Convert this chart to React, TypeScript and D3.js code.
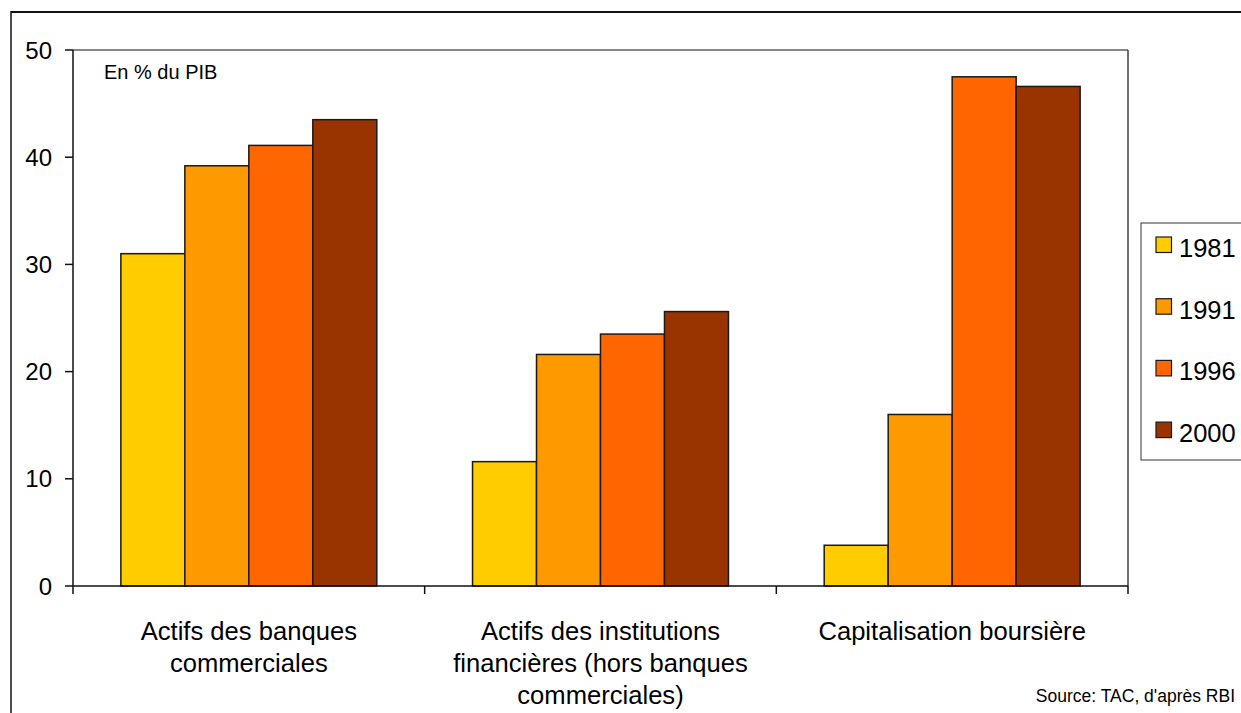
import React from "react";
import * as d3 from "d3";

const categories: string[][] = [
  ["Actifs des banques", "commerciales"],
  ["Actifs des institutions", "financières (hors banques", "commerciales)"],
  ["Capitalisation boursière"],
];
const seriesNames = ["1981", "1991", "1996", "2000"];
const seriesColors = ["#FFCC00", "#FF9900", "#FF6600", "#993300"];
const values1981 = [31.0, 11.6, 3.8];
const values1991 = [39.2, 21.6, 16.0];
const values1996 = [41.1, 23.5, 47.5];
const values2000 = [43.5, 25.6, 46.6];
const yTicks = [0, 10, 20, 30, 40, 50];

const seriesValues = [values1981, values1991, values1996, values2000];

const W = 1241;
const H = 713;
const plotLeft = 73;
const plotRight = 1128;
const plotTop = 50;
const plotBottom = 586;
const FONT = "'Liberation Sans', Arial, Helvetica, sans-serif";

export default function App() {
  const x = d3
    .scaleBand<number>()
    .domain(d3.range(categories.length))
    .range([plotLeft, plotRight])
    .paddingInner(0)
    .paddingOuter(0);
  const inner = d3
    .scaleBand<number>()
    .domain(d3.range(seriesNames.length))
    .range([0, x.bandwidth()])
    .paddingInner(0)
    .paddingOuter(0.748);
  const y = d3.scaleLinear().domain([0, 50]).range([plotBottom, plotTop]);

  const xTickPositions = d3.range(categories.length + 1).map((i) =>
    i < categories.length ? (x(i) as number) : plotRight
  );

  return (
    <svg
      width={W}
      height={H}
      viewBox={`0 0 ${W} ${H}`}
      style={{ position: "absolute", left: 0, top: 0, background: "#fff" }}
      fontFamily={FONT}
    >
      <rect x={0} y={0} width={W} height={H} fill="#fff" />
      {/* outer frame */}
      <line x1={11} y1={12} x2={W} y2={12} stroke="#111" strokeWidth={2} />
      <line x1={11} y1={11} x2={11} y2={H} stroke="#111" strokeWidth={1.5} />

      {/* plot area border */}
      <line x1={plotLeft} y1={plotTop} x2={plotRight} y2={plotTop} stroke="#111" strokeWidth={1.2} />
      <line x1={plotRight} y1={plotTop} x2={plotRight} y2={plotBottom} stroke="#111" strokeWidth={1.2} />

      {/* bars */}
      {seriesValues.map((vals, s) =>
        vals.map((v, c) => {
          const bx = (x(c) as number) + (inner(s) as number);
          return (
            <rect
              key={`${s}-${c}`}
              x={bx}
              y={y(v)}
              width={inner.bandwidth()}
              height={y(0) - y(v)}
              fill={seriesColors[s]}
              stroke="#1a1a1a"
              strokeWidth={1.5}
            />
          );
        })
      )}

      {/* y axis */}
      <line x1={plotLeft} y1={plotTop} x2={plotLeft} y2={plotBottom} stroke="#111" strokeWidth={1.5} />
      {yTicks.map((t) => (
        <g key={t}>
          <line x1={plotLeft - 8} y1={y(t)} x2={plotLeft} y2={y(t)} stroke="#111" strokeWidth={1.5} />
          <text
            x={52}
            y={y(t)}
            dy="0.36em"
            textAnchor="end"
            fontSize={24}
            fill="#000"
          >
            {t}
          </text>
        </g>
      ))}

      {/* x axis */}
      <line x1={plotLeft} y1={plotBottom} x2={plotRight} y2={plotBottom} stroke="#111" strokeWidth={1.5} />
      {xTickPositions.map((px, i) => (
        <line key={i} x1={px} y1={plotBottom} x2={px} y2={plotBottom + 8} stroke="#111" strokeWidth={1.5} />
      ))}
      {categories.map((lines, c) => (
        <text
          key={c}
          x={(x(c) as number) + x.bandwidth() / 2}
          y={640}
          textAnchor="middle"
          fontSize={25.6}
          fill="#000"
        >
          {lines.map((ln, i) => (
            <tspan key={i} x={(x(c) as number) + x.bandwidth() / 2} dy={i === 0 ? 0 : 32}>
              {ln}
            </tspan>
          ))}
        </text>
      ))}

      {/* unit label */}
      <text x={104} y={79} fontSize={20} fill="#000">
        En % du PIB
      </text>

      {/* legend */}
      <rect x={1141} y={223} width={120} height={237} fill="#fff" stroke="#333" strokeWidth={1} />
      {seriesNames.map((name, i) => {
        const top = 237 + i * 61.7;
        return (
          <g key={name}>
            <rect x={1156} y={top} width={15.5} height={15.5} fill={seriesColors[i]} stroke="#1a1a1a" strokeWidth={1.2} />
            <text x={1179} y={top + 20} fontSize={25.5} fill="#000">
              {name}
            </text>
          </g>
        );
      })}

      {/* source */}
      <text x={1235} y={702} textAnchor="end" fontSize={17.5} fill="#000">
        Source: TAC, d'après RBI
      </text>
    </svg>
  );
}
